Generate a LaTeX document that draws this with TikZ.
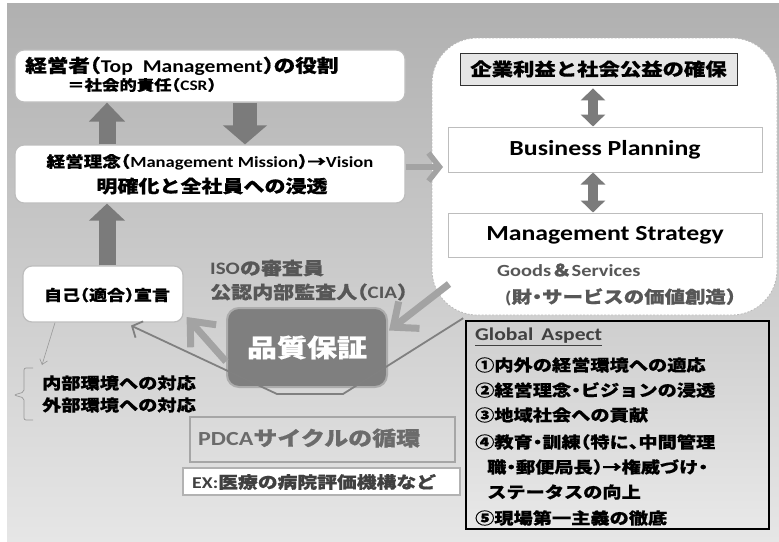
\documentclass[tikz,border=0pt]{standalone}
\usepackage{fontspec}
\setmainfont{Carlito}[FakeStretch=1.2]
\newfontfamily\jp{Noto Sans CJK JP}[FakeStretch=1.2, BoldFeatures={FakeBold=0.6}]
\newfontfamily\jph{Noto Sans CJK JP}[FakeStretch=1.2, RawFeature=+halt, BoldFeatures={FakeBold=0.6}]
\usetikzlibrary{arrows.meta}
\newcommand\jj[1]{{\jp #1}}
\newcommand\hh[1]{{\jph #1}}
\newcommand\fsz[1]{\fontsize{#1}{#1}\selectfont}
\definecolor{bgtop}{HTML}{B0B0B0}
\definecolor{bgbot}{HTML}{E6E6E6}
\definecolor{blk}{HTML}{7B7B7B}
\definecolor{arrg}{HTML}{A3A3A3}
\definecolor{lineg}{HTML}{808080}
\definecolor{txtg}{HTML}{575757}
\definecolor{pdcag}{HTML}{6B6B6B}
\definecolor{exg}{HTML}{404040}
\definecolor{boxedge}{HTML}{BDBDBD}
\definecolor{qfill}{HTML}{7F7F7F}
\definecolor{dfill}{HTML}{E6E6E6}
\begin{document}
\begin{tikzpicture}[x=1pt,y=-1pt,
  t/.style={inner sep=0pt, font=\bfseries, text=black},
  rbox/.style={draw=boxedge, fill=white, line width=1.2pt, rounded corners=9pt, inner sep=0pt},
  sbox/.style={draw=boxedge, fill=white, line width=1pt, inner sep=0pt},
  cloudbox/.style={draw=gray!55, fill=white, dashed, dash pattern=on 2pt off 1.5pt, line width=0.8pt, rounded corners=45pt, inner sep=0pt},
  blockarr/.style={color=blk},
  garr/.style={draw=arrg, line width=7pt, -{Straight Barb[length=20pt,width=34pt]}},
  thinarr/.style={draw=lineg, line width=1.8pt, -{Straight Barb[length=8pt,width=18pt]}}
]
\useasboundingbox (0,0) rectangle (779,541);
\fill[white] (0,0) rectangle (779,541);
\shade[top color=bgtop,bottom color=bgbot] (7,3) rectangle (779,541);

% cloud region
\node[cloudbox, minimum width=345pt, minimum height=277pt] (cloud) at (604.5,176.5) {};

% boxes
\node[rbox, minimum width=390pt, minimum height=52pt] (A) at (210,76) {};
\node[rbox, minimum width=390pt, minimum height=58pt] (B) at (210,174) {};
\node[rbox, minimum width=160pt, minimum height=56pt] (C) at (103,294) {};
\node[draw=black!80, fill=dfill, line width=0.8pt, inner sep=0pt, minimum width=277pt, minimum height=32pt] (D) at (598.5,69) {};
\node[sbox, minimum width=314pt, minimum height=45pt] (E) at (605,149.5) {};
\node[sbox, minimum width=314pt, minimum height=44pt] (F) at (605,235) {};
\node[draw=gray!70, line width=1.5pt, inner sep=0pt, minimum width=265pt, minimum height=45pt] (P) at (322.5,439.5) {};
\node[draw=gray!60, fill=white, line width=1.2pt, inner sep=0pt, minimum width=277pt, minimum height=27pt] (X) at (321.5,481.5) {};
\node[draw=black, line width=1.6pt, top color=gray!38, bottom color=gray!18, inner sep=0pt, minimum width=303pt, minimum height=208pt] (G) at (617.5,425) {};
\node[draw=gray!65, fill=qfill, line width=2pt, rounded corners=12pt, inner sep=0pt, minimum width=160pt, minimum height=79pt] (Q) at (307,347.5) {};

% helper x positions
\coordinate (x107) at (107,0);
\coordinate (x245) at (245,0);
\coordinate (x593) at (593,0);

% block arrows
\draw[blockarr, line width=17pt, -{Triangle[length=19pt,width=35pt]}] (x107 |- B.north) -- (x107 |- A.south);
\draw[blockarr, line width=24pt, -{Triangle[length=19pt,width=43pt]}] (x245 |- A.south) -- (x245 |- B.north);
\draw[blockarr, line width=17pt, -{Triangle[length=17pt,width=35pt]}] (x107 |- C.north) -- (x107 |- B.south);
\draw[blockarr, line width=10pt, {Triangle[length=12pt,width=24pt]}-{Triangle[length=12pt,width=24pt]}, shorten <=3pt] (x593 |- D.south) -- (x593 |- E.north);
\draw[blockarr, line width=10pt, {Triangle[length=12pt,width=24pt]}-{Triangle[length=12pt,width=24pt]}] (x593 |- E.south) -- (x593 |- F.north);

% gray arrows
\coordinate (bt) at (443,167);
\draw[draw=arrg, line width=5.5pt, -{Straight Barb[length=11pt,width=28pt]}] ([yshift=7pt]B.east) -- (bt);
\coordinate (cs) at (449,284);
\draw[garr] (cs) -- ([xshift=1pt,yshift=17pt]Q.east);
\draw[garr] ([yshift=-14pt]Q.west) -- ([xshift=3pt,yshift=-23pt]C.east);

% thin polyline back to C
\coordinate (m1) at (343,394);
\coordinate (m2) at (277,394);
\draw[thinarr] ([xshift=-2pt,yshift=2pt]G.north west) -- (m1) -- (m2) -- ([xshift=28pt,yshift=-3pt]C.south);

% thin arrow to brace
\coordinate (bz) at (42,365);
\draw[draw=gray!80, line width=0.6pt, -{Straight Barb[length=5pt,width=8pt]}] ([xshift=-48pt]C.south) -- (bz);
\draw[draw=gray!80, line width=0.7pt, rounded corners=2pt] (33,368) -- (24,368) -- (24,392) -- (14,395) -- (24,398) -- (24,420) -- (33,420);

% texts
\node[t, anchor=west] (a1) at (25,66) {\fsz{18}\jj{経営者}\hh{（}Top\hspace{10pt}Management\hh{）}\jj{の役割}};
\node[t, anchor=west] (a2) at (67,85) {\fsz{14.5}\jj{＝社会的責任}\hh{（}CSR\hh{）}};
\node[t] (b1) at (210,162) {\fsz{15.5}\jj{経営理念}\hh{（}Management Mission\hh{）}\jj{→}Vision};
\node[t] (b2) at (212,186) {\fsz{17.5}\jj{明確化と全社員への浸透}};
\node[t] (c1) at ([xshift=4pt,yshift=-1pt]C.center) {\fsz{15}\jj{自己}\hh{（}\jj{適合}\hh{）}\jj{宣言}};
\node[t] (d1) at (D.center) {\fsz{17.8}\jj{企業利益と社会公益の確保}};
\node[t] (e1) at (E.center) {\fsz{21.5}Business Planning};
\node[t] (f1) at (F.center) {\fsz{21.5}Management Strategy};
\node[t, anchor=west, text=txtg] (g1) at (497,270) {\fsz{17}Goods\jj{＆}Services};
\node[t, anchor=west, text=txtg] (g2) at (505,297) {\fsz{17}(\jj{財}\hh{・}\jj{サービスの価値創造}\hh{）}};
\node[t, anchor=west, text=txtg] (i1) at (210,268) {\fsz{17.5}ISO\jj{の審査員}};
\node[t, anchor=west, text=txtg] (i2) at (210,292) {\fsz{17.5}\jj{公認内部監査人}\hh{（}CIA\hh{）}};
\node[t, text=white] (q1) at (Q.center) {\fsz{25}\jj{品質保証}};
\node[t, anchor=west] (r1) at (42,383) {\fsz{16}\jj{内部環境への対応}};
\node[t, anchor=west] (r2) at (42,405) {\fsz{16}\jj{外部環境への対応}};
\node[t, anchor=west, text=pdcag] (p1) at (198,438) {\fsz{20}PDCA\jj{サイクルの循環}};
\node[t, anchor=west, text=exg] (x1) at (192,482) {\fsz{16.5}EX:\jj{医療の病院評価機構など}};

\node[t, anchor=west, text=exg] (h0) at (475,337) {\fsz{18}\underline{Global\hspace{8pt}Aspect}};
\node[t, anchor=west] (h1) at (475,365) {\fsz{16}\jj{①内外の経営環境への適応}};
\node[t, anchor=west] (h2) at (475,390) {\fsz{16}\jj{②経営理念}\hh{・}\jj{ビジョンの浸透}};
\node[t, anchor=west] (h3) at (475,415) {\fsz{16}\jj{③地域社会への貢献}};
\node[t, anchor=west] (h4) at (475,442) {\fsz{16}\jj{④教育}\hh{・}\jj{訓練}\hh{（}\jj{特に}\hh{、}\jj{中間管理}};
\node[t, anchor=west] (h5) at (487,467) {\fsz{16}\jj{職}\hh{・}\jj{郵便局長}\hh{）}\jj{→権威づけ}\hh{・}};
\node[t, anchor=west] (h6) at (487,492) {\fsz{16}\jj{ステータスの向上}};
\node[t, anchor=west] (h7) at (475,518) {\fsz{16}\jj{⑤現場第一主義の徹底}};
\end{tikzpicture}
\end{document}
